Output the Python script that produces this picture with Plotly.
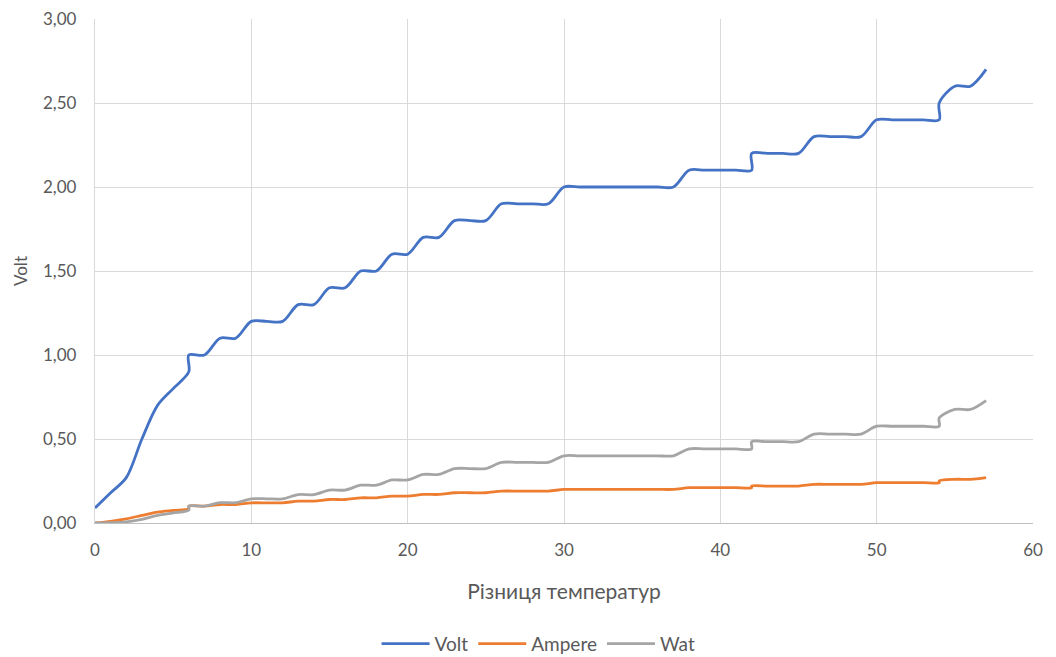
import plotly.graph_objects as go

# Temperature difference (repeated x where the reading changed at the same step)
temp_diff = [0, 1, 2, 3, 4, 5, 6, 6, 7, 8, 9, 10, 11, 12, 13, 14, 15, 16, 17, 18,
             19, 20, 21, 22, 23, 24, 25, 26, 27, 28, 29, 30, 31, 32, 33, 34, 35, 36,
             37, 38, 39, 40, 41, 42, 42, 43, 44, 45, 46, 47, 48, 49, 50, 51, 52, 53,
             54, 54, 55, 56, 57]

volt = [0.09, 0.18, 0.27, 0.50, 0.70, 0.80, 0.90, 1.00, 1.00, 1.10, 1.10, 1.20, 1.20,
        1.20, 1.30, 1.30, 1.40, 1.40, 1.50, 1.50, 1.60, 1.60, 1.70, 1.70, 1.80, 1.80,
        1.80, 1.90, 1.90, 1.90, 1.90, 2.00, 2.00, 2.00, 2.00, 2.00, 2.00, 2.00, 2.00,
        2.10, 2.10, 2.10, 2.10, 2.10, 2.20, 2.20, 2.20, 2.20, 2.30, 2.30, 2.30, 2.30,
        2.40, 2.40, 2.40, 2.40, 2.40, 2.50, 2.60, 2.60, 2.70]

ampere = [0.000, 0.010, 0.025, 0.045, 0.065, 0.075, 0.085, 0.100, 0.100, 0.110, 0.110,
          0.120, 0.120, 0.120, 0.130, 0.130, 0.140, 0.140, 0.150, 0.150, 0.160, 0.160,
          0.170, 0.170, 0.180, 0.180, 0.180, 0.190, 0.190, 0.190, 0.190, 0.200, 0.200,
          0.200, 0.200, 0.200, 0.200, 0.200, 0.200, 0.210, 0.210, 0.210, 0.210, 0.210,
          0.220, 0.220, 0.220, 0.220, 0.230, 0.230, 0.230, 0.230, 0.240, 0.240, 0.240,
          0.240, 0.240, 0.250, 0.260, 0.260, 0.270]

wat = [0.000, 0.002, 0.007, 0.022, 0.046, 0.060, 0.077, 0.100, 0.100, 0.121, 0.121,
       0.144, 0.144, 0.144, 0.169, 0.169, 0.196, 0.196, 0.225, 0.225, 0.256, 0.256,
       0.289, 0.289, 0.324, 0.324, 0.324, 0.361, 0.361, 0.361, 0.361, 0.400, 0.400,
       0.400, 0.400, 0.400, 0.400, 0.400, 0.400, 0.441, 0.441, 0.441, 0.441, 0.441,
       0.484, 0.484, 0.484, 0.484, 0.529, 0.529, 0.529, 0.529, 0.576, 0.576, 0.576,
       0.576, 0.576, 0.625, 0.676, 0.676, 0.729]

series = [("Volt", volt, "#4472C4"),
          ("Ampere", ampere, "#ED7D31"),
          ("Wat", wat, "#A5A5A5")]

FONT = "Lato, 'Open Sans', sans-serif"
TXT = "#595959"
GRID = "#D9D9D9"

fig = go.Figure()
for name, vals, color in series:
    fig.add_trace(go.Scatter(
        x=temp_diff, y=vals, name=name, mode="lines",
        line=dict(color=color, width=2.8, shape="spline", smoothing=0.9),
    ))

fig.update_layout(
    width=1056, height=657,
    margin=dict(l=95, r=23, t=19, b=134),
    paper_bgcolor="white", plot_bgcolor="white",
    separators=", ",
    font=dict(family=FONT, size=17, color=TXT),
    showlegend=True,
    legend=dict(orientation="h", x=0.51, xanchor="center", xref="container",
                y=0.02, yanchor="middle", yref="container",
                font=dict(family=FONT, size=19, color=TXT), itemwidth=48),
)

fig.update_xaxes(
    range=[0, 60], dtick=10, tick0=0, automargin=False,
    showgrid=True, gridcolor=GRID, gridwidth=1.3,
    showline=True, linecolor="#BFBFBF", linewidth=1.3,
    zeroline=False, ticks="", ticklabelstandoff=11,
    title=dict(text="Різниця температур", font=dict(family=FONT, size=21, color=TXT),
               standoff=25),
)
fig.update_yaxes(
    range=[0, 3], dtick=0.5, tick0=0, tickformat=".2f", automargin=False,
    showgrid=True, gridcolor=GRID, gridwidth=1.3,
    showline=True, linecolor=GRID, linewidth=1.3,
    zeroline=False, ticks="", ticklabelstandoff=14,
    title=dict(text="Volt", font=dict(family=FONT, size=17, color=TXT), standoff=11),
)

fig.write_html("out.html")
